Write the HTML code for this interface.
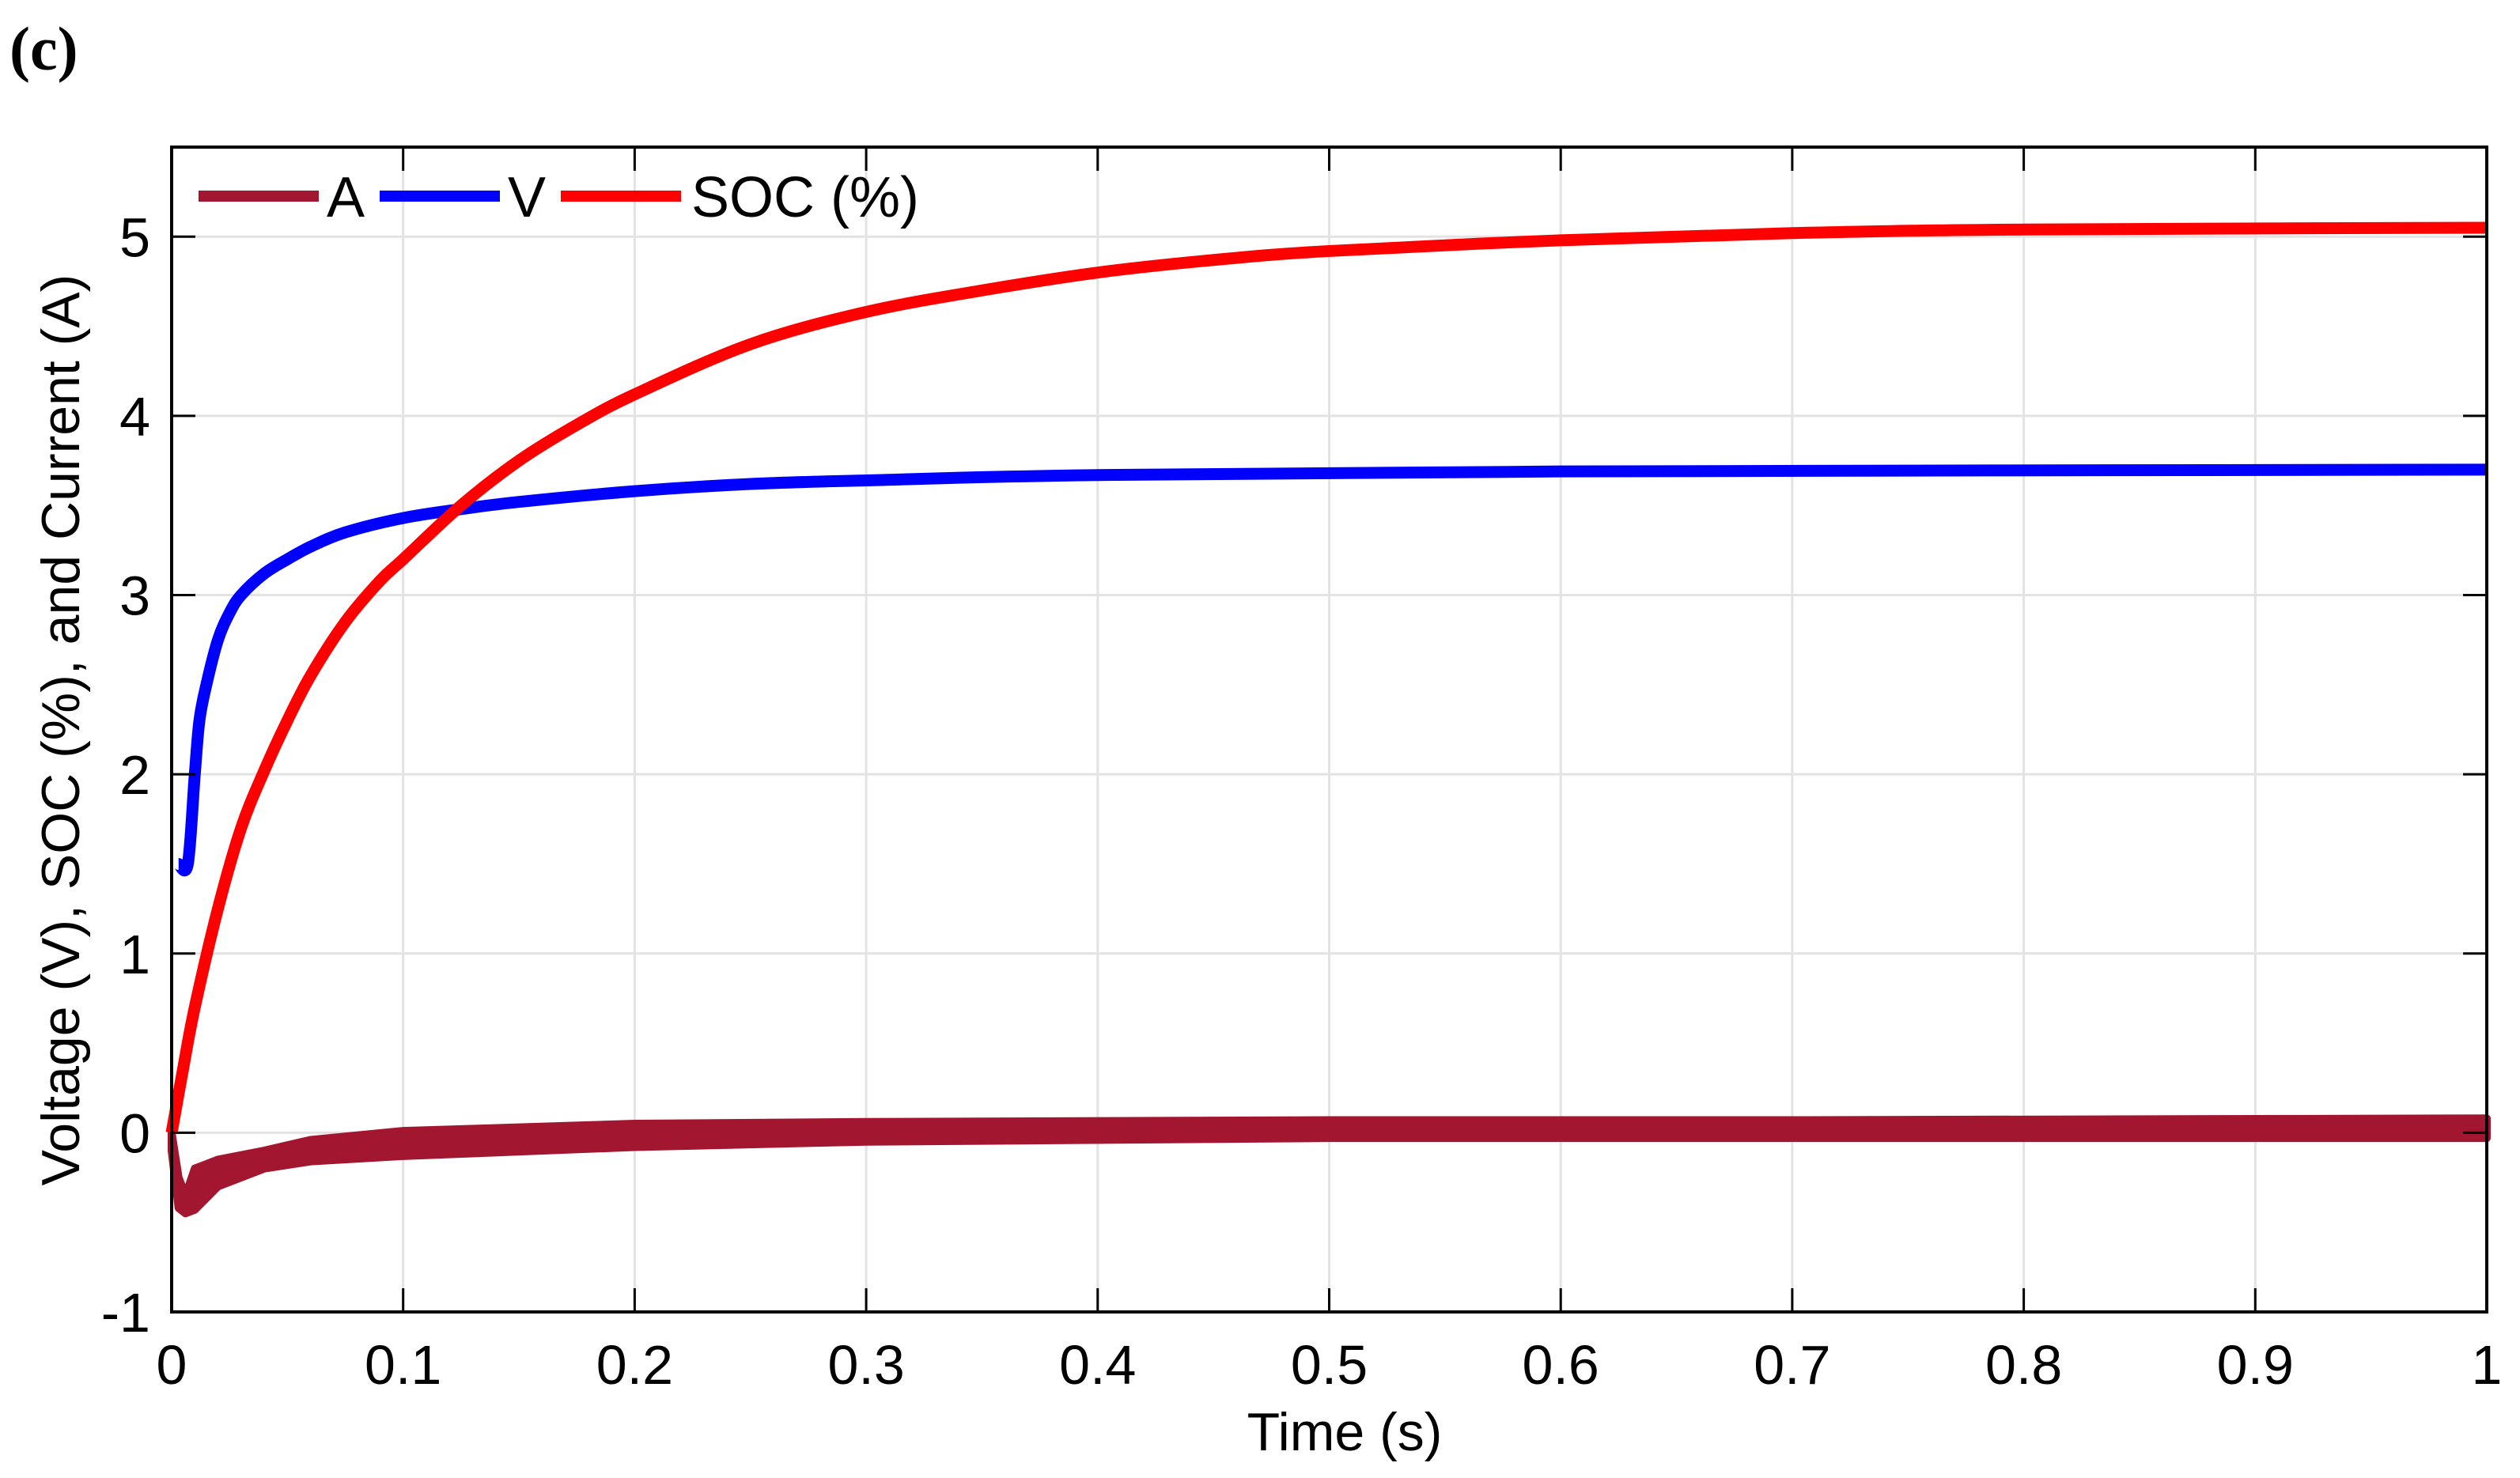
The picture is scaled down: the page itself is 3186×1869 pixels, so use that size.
<!DOCTYPE html>
<html><head><meta charset="utf-8"><style>
html,body{margin:0;padding:0;background:#fff;}
svg text{font-family:"Liberation Sans",Arial,sans-serif;fill:#000;}
</style></head><body>
<svg id="chart" width="3186" height="1864" viewBox="0 0 3186 1864" xmlns="http://www.w3.org/2000/svg">
<text x="12" y="88" font-weight="bold" font-size="78" style="font-family:'Liberation Serif',serif">(c)</text>
<g id="grid"></g>
<g id="series"></g>
<g id="axes"></g>
<text x="1700" y="1834" font-size="68" text-anchor="middle">Time (s)</text>
<text transform="translate(100,923) rotate(-90)" font-size="68" text-anchor="middle">Voltage (V), SOC (%), and Current (A)</text>
<g>
<line x1="251" y1="248" x2="403" y2="248" stroke="#A21630" stroke-width="14"/>
<text x="413" y="274" font-size="72">A</text>
<line x1="480" y1="248" x2="632" y2="248" stroke="#0000FF" stroke-width="14"/>
<text x="642" y="274" font-size="72">V</text>
<line x1="709" y1="248" x2="861" y2="248" stroke="#FF0000" stroke-width="14"/>
<text x="874" y="274" font-size="72">SOC (%)</text>
</g>
</svg>
<script>
const xTicks=[0,0.1,0.2,0.3,0.4,0.5,0.6,0.7,0.8,0.9,1];
const xTickLabels=["0","0.1","0.2","0.3","0.4","0.5","0.6","0.7","0.8","0.9","1"];
const yTicks=[-1,0,1,2,3,4,5];
const yTickLabels=["-1","0","1","2","3","4","5"];
const socT=[0,0.005,0.01,0.02,0.03,0.04,0.05,0.06,0.075,0.09,0.1,0.125,0.15,0.175,0.2,0.25,0.3,0.35,0.4,0.45,0.5,0.6,0.7,0.8,1.0];
const socV=[0,0.36,0.7,1.25,1.7,2.02,2.3,2.55,2.85,3.08,3.2,3.5,3.75,3.95,4.12,4.4,4.58,4.7,4.8,4.87,4.92,4.98,5.02,5.04,5.05];
const vT=[0.003,0.007,0.01,0.012,0.015,0.02,0.025,0.03,0.04,0.05,0.06,0.075,0.1,0.125,0.15,0.2,0.25,0.3,0.4,0.6,1.0];
const vV=[1.5,1.5,2.0,2.3,2.5,2.75,2.9,3.0,3.12,3.2,3.27,3.35,3.43,3.48,3.52,3.58,3.62,3.64,3.67,3.69,3.70];
const aT=[0,0.003,0.006,0.01,0.02,0.04,0.06,0.1,0.2,0.3,0.5,0.7,1.0];
const aLow=[-0.1,-0.42,-0.45,-0.43,-0.3,-0.2,-0.16,-0.13,-0.08,-0.05,-0.03,-0.03,-0.03];
const aHigh=[0,-0.25,-0.35,-0.2,-0.15,-0.1,-0.04,0.01,0.05,0.06,0.07,0.07,0.08];
const X0=217,X1=3144,Y0=1659,Y1=186,ymin=-1,ymax=5.5;
const sx=t=>X0+(X1-X0)*t;
const sy=v=>Y0-(Y0-Y1)*(v-ymin)/(ymax-ymin);
const NS="http://www.w3.org/2000/svg";
function mk(tag,attrs,parent){const e=document.createElementNS(NS,tag);for(const k in attrs)e.setAttribute(k,attrs[k]);parent.appendChild(e);return e;}
function smooth(ts,vs){
 const p=ts.map((t,i)=>[sx(t),sy(vs[i])]);
 let d='M'+p[0][0]+','+p[0][1];
 for(let i=0;i<p.length-1;i++){
  const p0=p[Math.max(0,i-1)],p1=p[i],p2=p[i+1],p3=p[Math.min(p.length-1,i+2)];
  const c1=[p1[0]+(p2[0]-p0[0])/6,p1[1]+(p2[1]-p0[1])/6];
  const c2=[p2[0]-(p3[0]-p1[0])/6,p2[1]-(p3[1]-p1[1])/6];
  d+=`C${c1[0]},${c1[1]} ${c2[0]},${c2[1]} ${p2[0]},${p2[1]}`;
 }
 return d;
}
const grid=document.getElementById('grid'),axes=document.getElementById('axes'),series=document.getElementById('series');
xTicks.forEach((t,i)=>{
 const g=mk('line',{x1:sx(t),x2:sx(t),y1:Y1,y2:Y0,stroke:'#e3e3e3','stroke-width':3},grid);
 
 
 const tk=mk('path',{d:`M${sx(t)},${Y0}v-30M${sx(t)},${Y1}v30`,stroke:'#000','stroke-width':3},axes);
 
 
 const tx=mk('text',{x:sx(t),y:1750,'font-size':70,'text-anchor':'middle'},axes);
 tx.textContent=xTickLabels[i];
 
 
});
yTicks.forEach((v,i)=>{
 const g=mk('line',{x1:X0,x2:X1,y1:sy(v),y2:sy(v),stroke:'#e3e3e3','stroke-width':3},grid);
 
 
 const tk=mk('path',{d:`M${X0},${sy(v)}h30M${X1},${sy(v)}h-30`,stroke:'#000','stroke-width':3},axes);
 
 
 const tx=mk('text',{x:190,y:sy(v)+25,'font-size':70,'text-anchor':'end'},axes);
 tx.textContent=yTickLabels[i];
 
 
});
const box=mk('rect',{x:X0,y:Y1,width:X1-X0,height:Y0-Y1,fill:'none',stroke:'#000','stroke-width':4},axes);


let bd='M'+aT.map((t,i)=>sx(t)+','+sy(aHigh[i])).join('L');
for(let i=aT.length-1;i>=0;i--)bd+='L'+sx(aT[i])+','+sy(aLow[i]);
const band=mk('path',{d:bd+'Z',fill:'#A21630',stroke:'#A21630','stroke-width':10,'stroke-linejoin':'round'},series);


const vl=mk('path',{d:smooth(vT,vV),fill:'none',stroke:'#0000FF','stroke-width':15,'stroke-linejoin':'round'},series);


const sl=mk('path',{d:smooth(socT,socV),fill:'none',stroke:'#FF0000','stroke-width':15,'stroke-linejoin':'round'},series);


</script>
</body></html>
